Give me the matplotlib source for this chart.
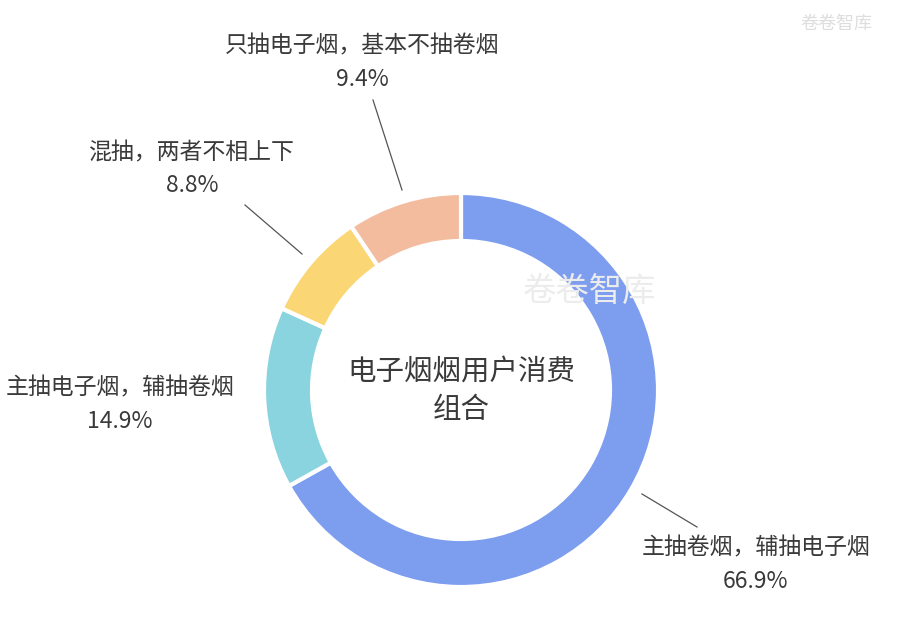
import matplotlib.pyplot as plt

plt.rcParams['font.family'] = ['Noto Sans CJK SC', 'DejaVu Sans']

labels = ["主抽卷烟，辅抽电子烟", "主抽电子烟，辅抽卷烟", "混抽，两者不相上下", "只抽电子烟，基本不抽卷烟"]
shares = [66.9, 14.9, 8.8, 9.4]
colors = ["#7d9def", "#8ad4df", "#fad674", "#f3bc9e"]

# label text positions (pixel coords, y from top) and leader lines
label_pos = [(756, 548), (120, 388), (192, 153), (362, 46)]
leaders = [((642, 494), (697, 527)), None, ((245, 205), (302, 254)), ((373, 100), (402, 190))]

H = 628
fig = plt.figure(figsize=(9, 6.28), dpi=100)
ax = fig.add_axes([0, 0, 1, 1])

cx, cy = 461, H - 390
ax.pie(
    shares,
    colors=colors,
    startangle=90,
    counterclock=False,
    center=(cx, cy),
    radius=197,
    wedgeprops=dict(width=48, edgecolor="white", linewidth=3),
    frame=True,
)
ax.set_xlim(0, 900)
ax.set_ylim(0, H)
ax.set_aspect("equal")
ax.axis("off")

for lab, v, (x, y), ld in zip(labels, shares, label_pos, leaders):
    ax.text(x, H - y, lab, ha="center", va="center", fontsize=16.5, color="#3a3a3a")
    ax.text(x, H - y - 33, f"{v}%", ha="center", va="center", fontsize=16.5, color="#3a3a3a")
    if ld:
        (x0, y0), (x1, y1) = ld
        ax.plot([x0, x1], [H - y0, H - y1], color="#555555", lw=0.9)

ax.text(cx, H - 372, "电子烟烟用户消费", ha="center", va="center", fontsize=20.5, color="#3a3a3a")
ax.text(cx, H - 410, "组合", ha="center", va="center", fontsize=20.5, color="#3a3a3a")

# watermarks
ax.text(590, H - 292, "卷卷智库", ha="center", va="center", fontsize=24, color="#ececec")
ax.text(836, H - 24, "卷卷智库", ha="center", va="center", fontsize=13, color="#dddddd")

fig.savefig("out.png", dpi=100)
